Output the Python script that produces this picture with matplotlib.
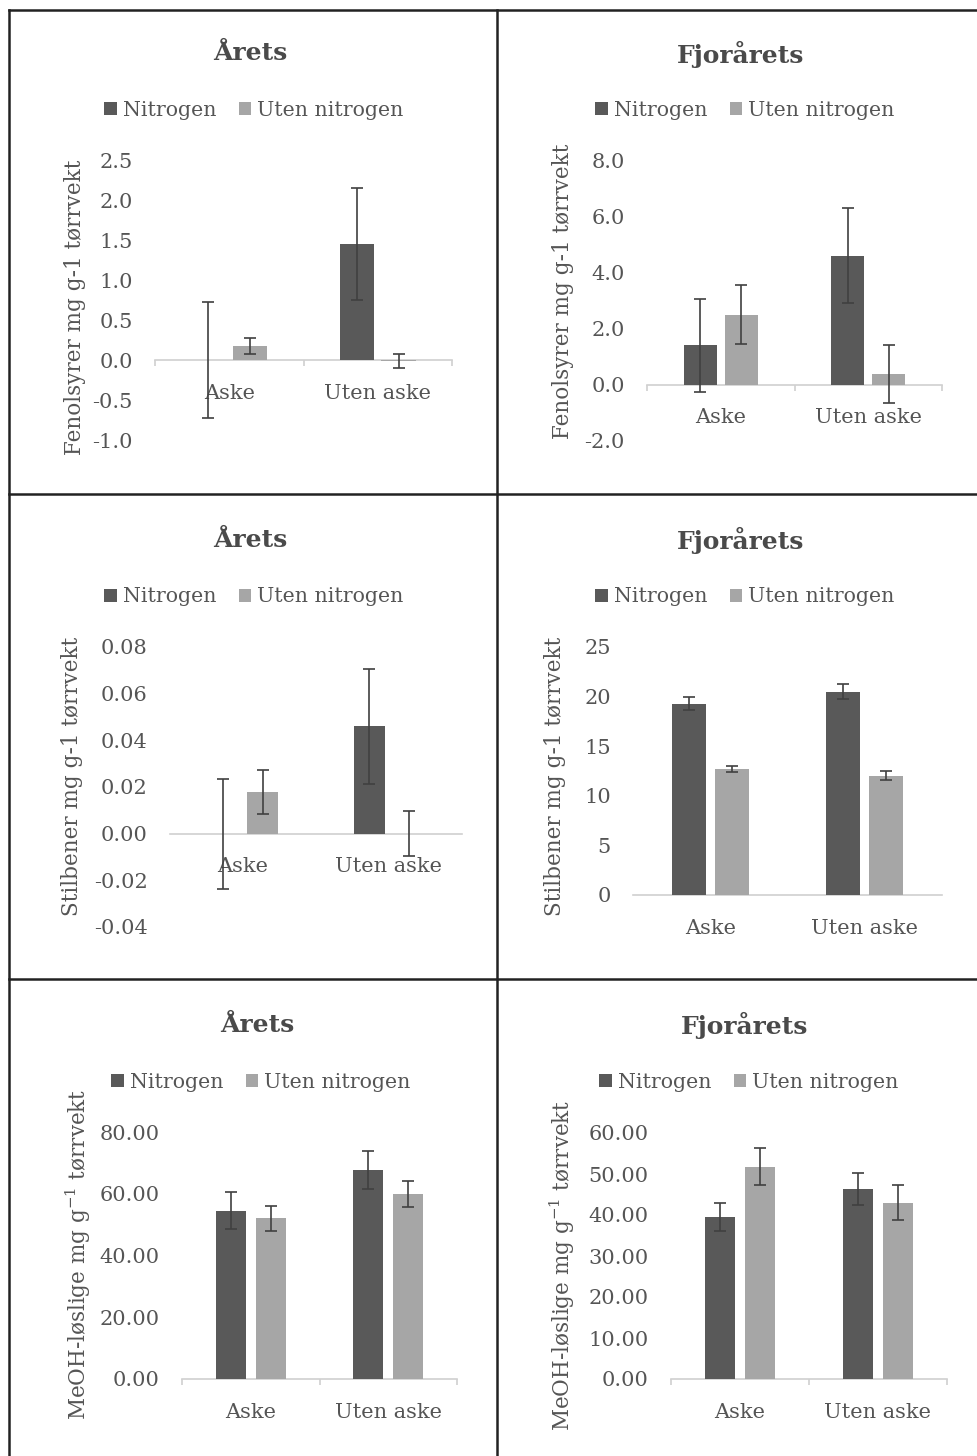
import matplotlib
matplotlib.use("Agg")
import matplotlib.pyplot as plt
from matplotlib.patches import Patch
from matplotlib.lines import Line2D
import numpy as np

plt.rcParams['font.family'] = ['DejaVu Serif']
plt.rcParams['mathtext.fontset'] = 'dejavuserif'

categories = ["Aske", "Uten aske"]
series_names = ["Nitrogen", "Uten nitrogen"]
titles = ["Årets", "Fjorårets", "Årets", "Fjorårets", "Årets", "Fjorårets"]
ylabels = ["Fenolsyrer mg g-1 tørrvekt", "Fenolsyrer mg g-1 tørrvekt",
           "Stilbener mg g-1 tørrvekt", "Stilbener mg g-1 tørrvekt",
           r"MeOH-løslige mg g$^{-1}$ tørrvekt", r"MeOH-løslige mg g$^{-1}$ tørrvekt"]

# Values: [Aske, Uten aske]
fen_arets_n = [0.0, 1.45]
fen_arets_n_err = [0.72, 0.70]
fen_arets_u = [0.17, -0.01]
fen_arets_u_err = [0.10, 0.09]

fen_fjor_n = [1.4, 4.6]
fen_fjor_n_err = [1.65, 1.7]
fen_fjor_u = [2.5, 0.4]
fen_fjor_u_err = [1.05, 1.03]

sti_arets_n = [0.0, 0.046]
sti_arets_n_err = [0.0235, 0.0245]
sti_arets_u = [0.018, 0.0]
sti_arets_u_err = [0.0095, 0.0097]

sti_fjor_n = [19.3, 20.5]
sti_fjor_n_err = [0.7, 0.75]
sti_fjor_u = [12.7, 12.0]
sti_fjor_u_err = [0.35, 0.45]

meoh_arets_n = [54.5, 67.7]
meoh_arets_n_err = [6.0, 6.2]
meoh_arets_u = [52.0, 59.8]
meoh_arets_u_err = [4.0, 4.2]

meoh_fjor_n = [39.5, 46.3]
meoh_fjor_n_err = [3.4, 3.9]
meoh_fjor_u = [51.8, 43.0]
meoh_fjor_u_err = [4.5, 4.3]

yticks_list = [
    [-1.0, -0.5, 0.0, 0.5, 1.0, 1.5, 2.0, 2.5],
    [-2.0, 0.0, 2.0, 4.0, 6.0, 8.0],
    [-0.04, -0.02, 0.0, 0.02, 0.04, 0.06, 0.08],
    [0, 5, 10, 15, 20, 25],
    [0, 20, 40, 60, 80],
    [0, 10, 20, 30, 40, 50, 60],
]
yfmt = ["{:.1f}", "{:.1f}", "{:.2f}", "{:.0f}", "{:.2f}", "{:.2f}"]

panels_data = [
    (fen_arets_n, fen_arets_n_err, fen_arets_u, fen_arets_u_err),
    (fen_fjor_n, fen_fjor_n_err, fen_fjor_u, fen_fjor_u_err),
    (sti_arets_n, sti_arets_n_err, sti_arets_u, sti_arets_u_err),
    (sti_fjor_n, sti_fjor_n_err, sti_fjor_u, sti_fjor_u_err),
    (meoh_arets_n, meoh_arets_n_err, meoh_arets_u, meoh_arets_u_err),
    (meoh_fjor_n, meoh_fjor_n_err, meoh_fjor_u, meoh_fjor_u_err),
]

# layout in pixels: (x0, x1, y_top, y_bottom)
W, H = 978, 1456
axes_px = [
    (155, 452, 160, 440),
    (647, 942, 160, 441),
    (170, 462, 647, 927),
    (633, 942, 647, 895),
    (182, 457, 1132, 1379),
    (671, 947, 1133, 1379),
]
title_px = [(250, 53), (741, 54), (250, 540), (741, 540), (257, 1025), (745, 1025)]
legend_px = [(254, 110), (745, 110), (254, 597), (745, 597), (261, 1082), (749, 1082)]
ylabel_px = [(75, 307), (563, 291), (72, 776), (555, 776), (78, 1254), (562, 1265)]
bar_w = [0.23, 0.225, 0.21, 0.22, 0.22, 0.22]
bar_off = [0.14, 0.14, 0.135, 0.14, 0.145, 0.145]
ticks_marks = [True, True, False, False, True, True]

DARK = "#595959"
LIGHT = "#a6a6a6"
TXT = "#555555"
AXC = "#d0d0d0"
ERRC = "#404040"
FS = 15

fig = plt.figure(figsize=(W / 100, H / 100), dpi=100)

def fx(x):
    return x / W

def fy(y):
    return 1 - y / H

for i in range(6):
    x0, x1, yt, yb = axes_px[i]
    ax = fig.add_axes([fx(x0), fy(yb), (x1 - x0) / W, (yb - yt) / H])
    n, ne, u, ue = panels_data[i]
    xs = np.arange(len(categories))
    w = bar_w[i]
    off = bar_off[i]
    ax.bar(xs - off, n, w, color=DARK, zorder=2)
    ax.bar(xs + off, u, w, color=LIGHT, zorder=2)
    ax.errorbar(xs - off, n, yerr=ne, fmt='none', ecolor=ERRC, elinewidth=1.2,
                capsize=4.5, capthick=1.2, zorder=3)
    ax.errorbar(xs + off, u, yerr=ue, fmt='none', ecolor=ERRC, elinewidth=1.2,
                capsize=4.5, capthick=1.2, zorder=3)
    for s in ['top', 'right', 'left']:
        ax.spines[s].set_visible(False)
    ax.spines['bottom'].set_position(('data', 0))
    ax.spines['bottom'].set_color(AXC)
    ax.spines['bottom'].set_linewidth(1.2)
    ax.spines['bottom'].set_zorder(1)

    yt_vals = yticks_list[i]
    ax.set_ylim(yt_vals[0], yt_vals[-1])
    ax.set_xlim(-0.5, len(categories) - 0.5)
    ax.set_yticks(yt_vals)
    ax.set_yticklabels([yfmt[i].format(v) for v in yt_vals])
    ax.set_xticks(xs)
    ax.set_xticklabels(categories)
    ax.tick_params(axis='y', length=0, pad=16, labelsize=FS, labelcolor=TXT)
    ax.tick_params(axis='x', which='major', length=0, pad=17, labelsize=FS, labelcolor=TXT)
    if ticks_marks[i]:
        ax.set_xticks([-0.5, 0.5, 1.5], minor=True)
        ax.tick_params(axis='x', which='minor', length=4, width=1.2, color=AXC, direction='out')
    else:
        ax.set_xticks([], minor=True)
    ax.patch.set_alpha(0)

    # title
    fig.text(fx(title_px[i][0]), fy(title_px[i][1]), titles[i], ha='center', va='center',
             fontsize=18, fontweight='bold', color="#4a4a4a")
    # y label
    fig.text(fx(ylabel_px[i][0]), fy(ylabel_px[i][1]), ylabels[i], ha='center', va='center',
             rotation=90, fontsize=15.5, color=TXT)
    # legend
    handles = [Patch(facecolor=DARK, edgecolor='none'), Patch(facecolor=LIGHT, edgecolor='none')]
    fig.legend(handles, series_names, loc='center',
               bbox_to_anchor=(fx(legend_px[i][0]), fy(legend_px[i][1])),
               ncol=2, frameon=False, fontsize=14.8, labelcolor=TXT,
               handlelength=0.6, handleheight=0.6, handletextpad=0.3,
               columnspacing=1.1, borderpad=0, borderaxespad=0)

# panel borders
BC = "#222222"
lw = 1.8
def hline(y, xa, xb):
    fig.add_artist(Line2D([fx(xa), fx(xb)], [fy(y), fy(y)], color=BC, lw=lw))
def vline(x, ya, yb):
    fig.add_artist(Line2D([fx(x), fx(x)], [fy(ya), fy(yb)], color=BC, lw=lw))

hline(10, 9, W)
hline(494, 9, W)
hline(979, 9, W)
vline(9, 10, H)
vline(497, 10, H)

fig.savefig("out.png", dpi=100)
